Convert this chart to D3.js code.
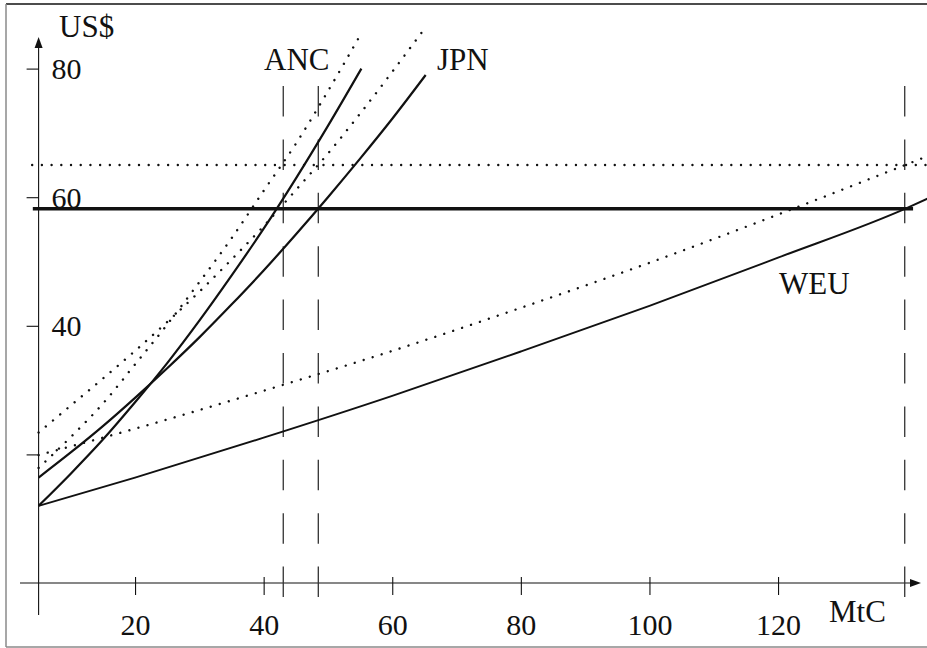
<!DOCTYPE html>
<html>
<head>
<meta charset="utf-8">
<script src="https://cdn.jsdelivr.net/npm/d3@7"></script>
<style>
  html, body { margin: 0; padding: 0; background: #fff; }
  svg { display: block; }
  text { font-family: "Liberation Serif", "Times New Roman", serif; fill: #111; }
</style>
</head>
<body>
<svg id="chart" width="927" height="648"></svg>
<script>
// ---------- data ----------
const xTicks = [20, 40, 60, 80, 100, 120];
const xTickLabels = ["20", "40", "60", "80", "100", "120"];
const yTicks = [20, 40, 60, 80];
const yTickLabels = ["", "40", "60", "80"];

// marginal abatement cost curves (solid)
const ancX = [5, 10, 15, 20, 25, 30, 35, 40, 45, 50, 55.2];
const ancY = [12, 17.0, 22.3, 28.1, 34.2, 40.8, 47.8, 55.1, 62.9, 71.1, 80.0];
const jpnX = [5, 10, 15, 20, 25, 30, 35, 40, 45, 50, 55, 60, 65.2];
const jpnY = [16.4, 20.3, 24.4, 28.8, 33.4, 38.2, 43.3, 48.6, 54.2, 60.0, 66.0, 72.2, 79.0];
const weuX = [5, 20, 40, 60, 80, 100, 120, 140, 143.3];
const weuY = [12, 16.4, 22.6, 29.1, 36.0, 43.1, 50.6, 58.3, 59.8];

// shifted curves (dotted)
const ancHiX = [5, 10, 15, 20, 25, 30, 35, 40, 45, 50, 55.25];
const ancHiY = [17.9, 22.7, 27.9, 34.0, 40.2, 46.8, 53.6, 61.0, 68.3, 76.5, 85.6];
const jpnHiX = [5, 10, 15, 20, 25, 30, 35, 40, 45, 50, 55, 60, 65.3];
const jpnHiY = [23.4, 27.6, 31.8, 36.1, 40.6, 45.3, 50.3, 55.5, 61.1, 66.8, 73.0, 79.5, 86.6];
const weuHiX = [5, 20, 40, 60, 80, 100, 120, 140, 143.3];
const weuHiY = [19.9, 24.0, 29.9, 36.1, 42.8, 49.8, 57.3, 65.1, 66.4];

const priceLevel = 58.2;      // thick horizontal
const priceSpan = [4.1, 141.0];
const highPriceLevel = 65;    // dotted horizontal
const highPriceSpan = [4.0, 144];
const quotaX = [43.05, 48.5, 139.7]; // dashed verticals

const regionNames = ["ANC", "JPN", "WEU"];
const axisTitles = ["US$", "MtC"];

// ---------- drawing ----------
const svg = d3.select("#chart");
const x = d3.scaleLinear().domain([0, 140]).range([6.45, 906.65]);
const y = d3.scaleLinear().domain([0, 80]).range([583, 68.6]);
const x0 = x(5);
const yBase = y(0);

// frame
svg.append("line").attr("x1", 6).attr("x2", 927).attr("y1", 4).attr("y2", 4)
  .attr("stroke", "#111").attr("stroke-width", 1.6);
svg.append("line").attr("x1", 6).attr("x2", 6).attr("y1", 4).attr("y2", 647)
  .attr("stroke", "#8a8a8a").attr("stroke-width", 1.5);
svg.append("line").attr("x1", 6).attr("x2", 927).attr("y1", 647).attr("y2", 647)
  .attr("stroke", "#8a8a8a").attr("stroke-width", 1.5);

// axis lines with arrows
svg.append("line").attr("x1", 20).attr("x2", 914).attr("y1", yBase).attr("y2", yBase)
  .attr("stroke", "#111").attr("stroke-width", 1.1);
svg.append("path").attr("d", `M921,${yBase} L910,${yBase - 4} L910,${yBase + 4} Z`).attr("fill", "#111");
svg.append("line").attr("x1", x0).attr("x2", x0).attr("y1", 615).attr("y2", 44)
  .attr("stroke", "#111").attr("stroke-width", 1.1);
svg.append("path").attr("d", `M${x0},37 L${x0 - 4},48 L${x0 + 4},48 Z`).attr("fill", "#111");

// x axis ticks and labels
const xAxis = d3.axisBottom(x).tickValues(xTicks).tickSize(18).tickPadding(19)
  .tickFormat((d, i) => xTickLabels[i]);
const gx = svg.append("g").attr("transform", `translate(0,${yBase - 6})`).call(xAxis);
gx.select(".domain").remove();
gx.selectAll("line").attr("stroke", "#111").attr("stroke-width", 1.1);
gx.selectAll("text").style("font-family", '"Liberation Serif", serif').style("font-size", "30px").attr("fill", "#111");

// y axis ticks and labels
const yAxis = d3.axisLeft(y).tickValues(yTicks).tickSize(12)
  .tickFormat((d, i) => yTickLabels[i]);
const gy = svg.append("g").attr("transform", `translate(${x0},0)`).call(yAxis);
gy.select(".domain").remove();
gy.selectAll("line").attr("stroke", "#111").attr("stroke-width", 1.1);
gy.selectAll("text").attr("x", 13).attr("dy", "0.33em").attr("text-anchor", "start")
  .style("font-family", '"Liberation Serif", serif').style("font-size", "30px").attr("fill", "#111");

// dashed verticals
svg.append("g").selectAll("line").data(quotaX).join("line")
  .attr("x1", d => x(d)).attr("x2", d => x(d))
  .attr("y1", 86).attr("y2", 598)
  .attr("stroke", "#333").attr("stroke-width", 1.3)
  .attr("stroke-dasharray", "30.5 22.9");

// dotted horizontal
svg.append("line")
  .attr("x1", x(highPriceSpan[0])).attr("x2", x(highPriceSpan[1]))
  .attr("y1", y(highPriceLevel)).attr("y2", y(highPriceLevel))
  .attr("stroke", "#111").attr("stroke-width", 2.4).attr("stroke-linecap", "round")
  .attr("stroke-dasharray", "0.01 9.7");

const line = d3.line().x(d => x(d[0])).y(d => y(d[1])).curve(d3.curveMonotoneX);
const zip = (xs, ys) => xs.map((v, i) => [v, ys[i]]);

// dotted curves
[[ancHiX, ancHiY], [jpnHiX, jpnHiY], [weuHiX, weuHiY]].forEach(([xs, ys]) => {
  svg.append("path").attr("d", line(zip(xs, ys)))
    .attr("fill", "none").attr("stroke", "#111").attr("stroke-width", 2.4)
    .attr("stroke-linecap", "round").attr("stroke-dasharray", "0.01 9.4");
});

// solid curves
[[ancX, ancY, 2.2], [jpnX, jpnY, 2.2], [weuX, weuY, 1.9]].forEach(([xs, ys, w]) => {
  svg.append("path").attr("d", line(zip(xs, ys)))
    .attr("fill", "none").attr("stroke", "#111").attr("stroke-width", w);
});

// thick price line
svg.append("line")
  .attr("x1", x(priceSpan[0])).attr("x2", x(priceSpan[1]))
  .attr("y1", y(priceLevel)).attr("y2", y(priceLevel))
  .attr("stroke", "#111").attr("stroke-width", 3.6);

// labels
const lab = (t, px, py) => svg.append("text").attr("x", px).attr("y", py)
  .style("font-size", "31px").text(t);
lab(axisTitles[0], 59, 37);
lab(axisTitles[1], 829, 622);
lab(regionNames[0], 264, 70);
lab(regionNames[1], 437, 70);
lab(regionNames[2], 779, 294);
</script>
</body>
</html>
